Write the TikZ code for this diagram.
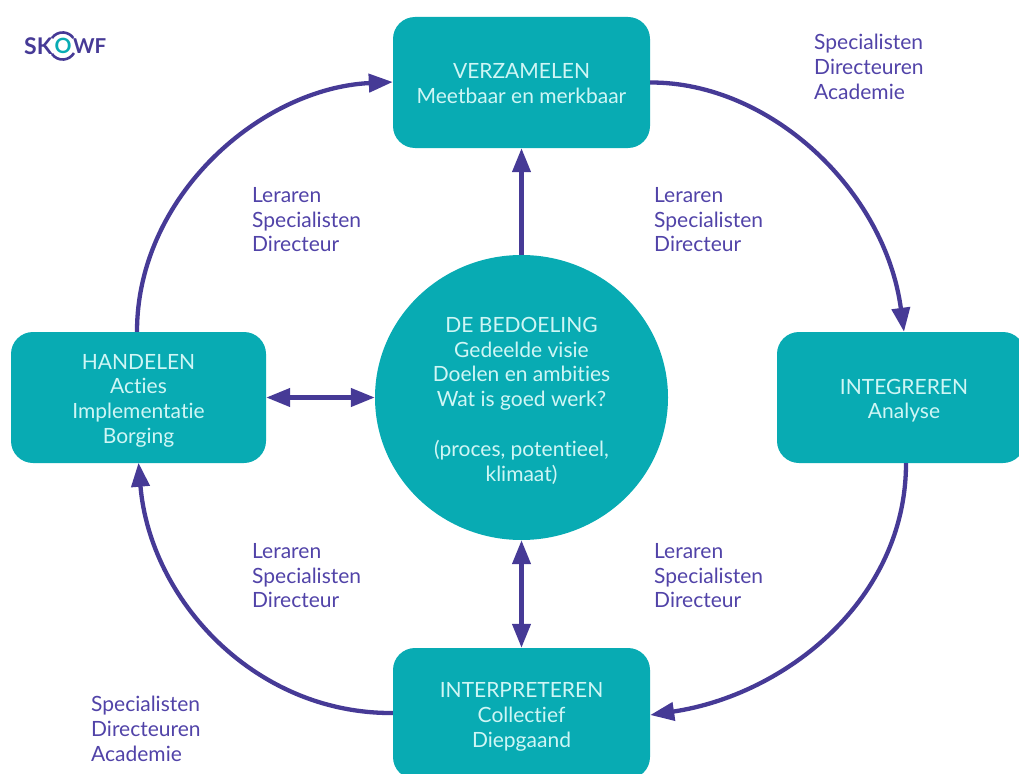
\documentclass[tikz,border=0pt]{standalone}
\usepackage{fontspec}
\setmainfont{Lato}[Ligatures=NoCommon]
\usetikzlibrary{arrows.meta,shapes.geometric}
\definecolor{teal1}{HTML}{08ABB3}
\definecolor{pale}{HTML}{CFF6F5}
\definecolor{violet1}{HTML}{463A96}
\definecolor{violet2}{HTML}{5143A8}
\newcommand{\lowerA}{\rule{0pt}{21.5pt}}
\newcommand{\lowerB}{\rule{0pt}{17pt}}
\tikzset{
  stage/.style={fill=teal1,draw=none,rounded corners=22pt,text=pale,align=center,inner sep=0pt,
    font=\fontsize{21}{24.8}\selectfont},
  heart/.style={ellipse,fill=teal1,draw=none,text=pale,align=center,inner sep=0pt,minimum width=293pt,minimum height=285pt,
    font=\fontsize{21}{24.8}\selectfont},
  who/.style={text=violet2,align=left,inner sep=0pt,font=\fontsize{21}{24.8}\selectfont},
  link/.style={draw=violet1,line width=4.3pt,-{Triangle[length=24pt,width=18pt]}},
  both/.style={draw=violet1,line width=4.3pt,{Triangle[length=24pt,width=18pt]}-{Triangle[length=24pt,width=18pt]}},
  brand/.style={text=violet1,inner sep=0pt,font=\fontsize{23}{24}\bfseries\selectfont},
}
\begin{document}
\begin{tikzpicture}[x=1pt,y=-1pt]
\useasboundingbox (0,0) rectangle (1019,773);
\clip (0,0) rectangle (1019,773);
% logo
\node[brand,anchor=west] (sk) at (24,46) {SK};
\node[brand,anchor=west,font=\fontsize{20.5}{24}\bfseries\selectfont] (wf) at (73,46) {WF};
\node[brand,text=teal1,font=\fontsize{21}{24}\bfseries\selectfont] (oo) at (63,46) {O};
\draw[violet1,line width=2.6pt] (52,38) arc[start angle=145,end angle=35,x radius=13pt,y radius=13pt];
\draw[violet1,line width=2.6pt] (52,54) arc[start angle=-145,end angle=-30,x radius=13pt,y radius=13pt];
% stages
\node[stage,minimum width=257pt,minimum height=131pt] (verz) at (521.5,82.5) {\lowerB VERZAMELEN\\Meetbaar en merkbaar};
\node[stage,minimum width=255pt,minimum height=131pt] (hand) at (138.5,397.5) {\lowerA HANDELEN\\Acties\\Implementatie\\Borging};
\node[stage,minimum width=248pt,minimum height=131pt] (inte) at (901,397.5) {\lowerA\hspace*{6pt}INTEGREREN\\\hspace*{6pt}Analyse};
\node[stage,minimum width=257pt,minimum height=131pt] (intp) at (521.5,713.5) {\lowerA INTERPRETEREN\\Collectief\\Diepgaand};
\node[heart] (bed) at (521.5,397.5) {\lowerA DE BEDOELING\\Gedeelde visie\\Doelen en ambities\\Wat is goed werk?\\[24.8pt](proces, potentieel,\\klimaat)};
% labels
\node[who,anchor=north west] (w1) at (814,34) {Specialisten\\Directeuren\\Academie};
\node[who,anchor=north west] (w2) at (252,187) {Leraren\\Specialisten\\Directeur};
\node[who,anchor=north west] (w3) at (654,187) {Leraren\\Specialisten\\Directeur};
\node[who,anchor=north west] (w4) at (252,543) {Leraren\\Specialisten\\Directeur};
\node[who,anchor=north west] (w5) at (654,543) {Leraren\\Specialisten\\Directeur};
\node[who,anchor=north west] (w6) at (91,696) {Specialisten\\Directeuren\\Academie};
% ring
\draw[link] (verz.east) .. controls (770,82) and (885,190) .. ([xshift=3pt]inte.north);
\draw[link] ([xshift=5pt]inte.south) .. controls (906,600) and (785,695) .. ([yshift=-1.5pt]intp.east);
\draw[link] ([yshift=0.5pt]intp.west) .. controls (255,714) and (150,600) .. ([yshift=0.5pt]hand.south);
\draw[link] ([xshift=-1.5pt]hand.north) .. controls (137,195) and (262,88) .. ([yshift=0.5pt]verz.west);
% spokes
\draw[link] (bed.north) -- (verz.south);
\draw[both] (hand.east) -- (bed.west);
\draw[both] (bed.south) -- (intp.north);
\end{tikzpicture}
\end{document}
